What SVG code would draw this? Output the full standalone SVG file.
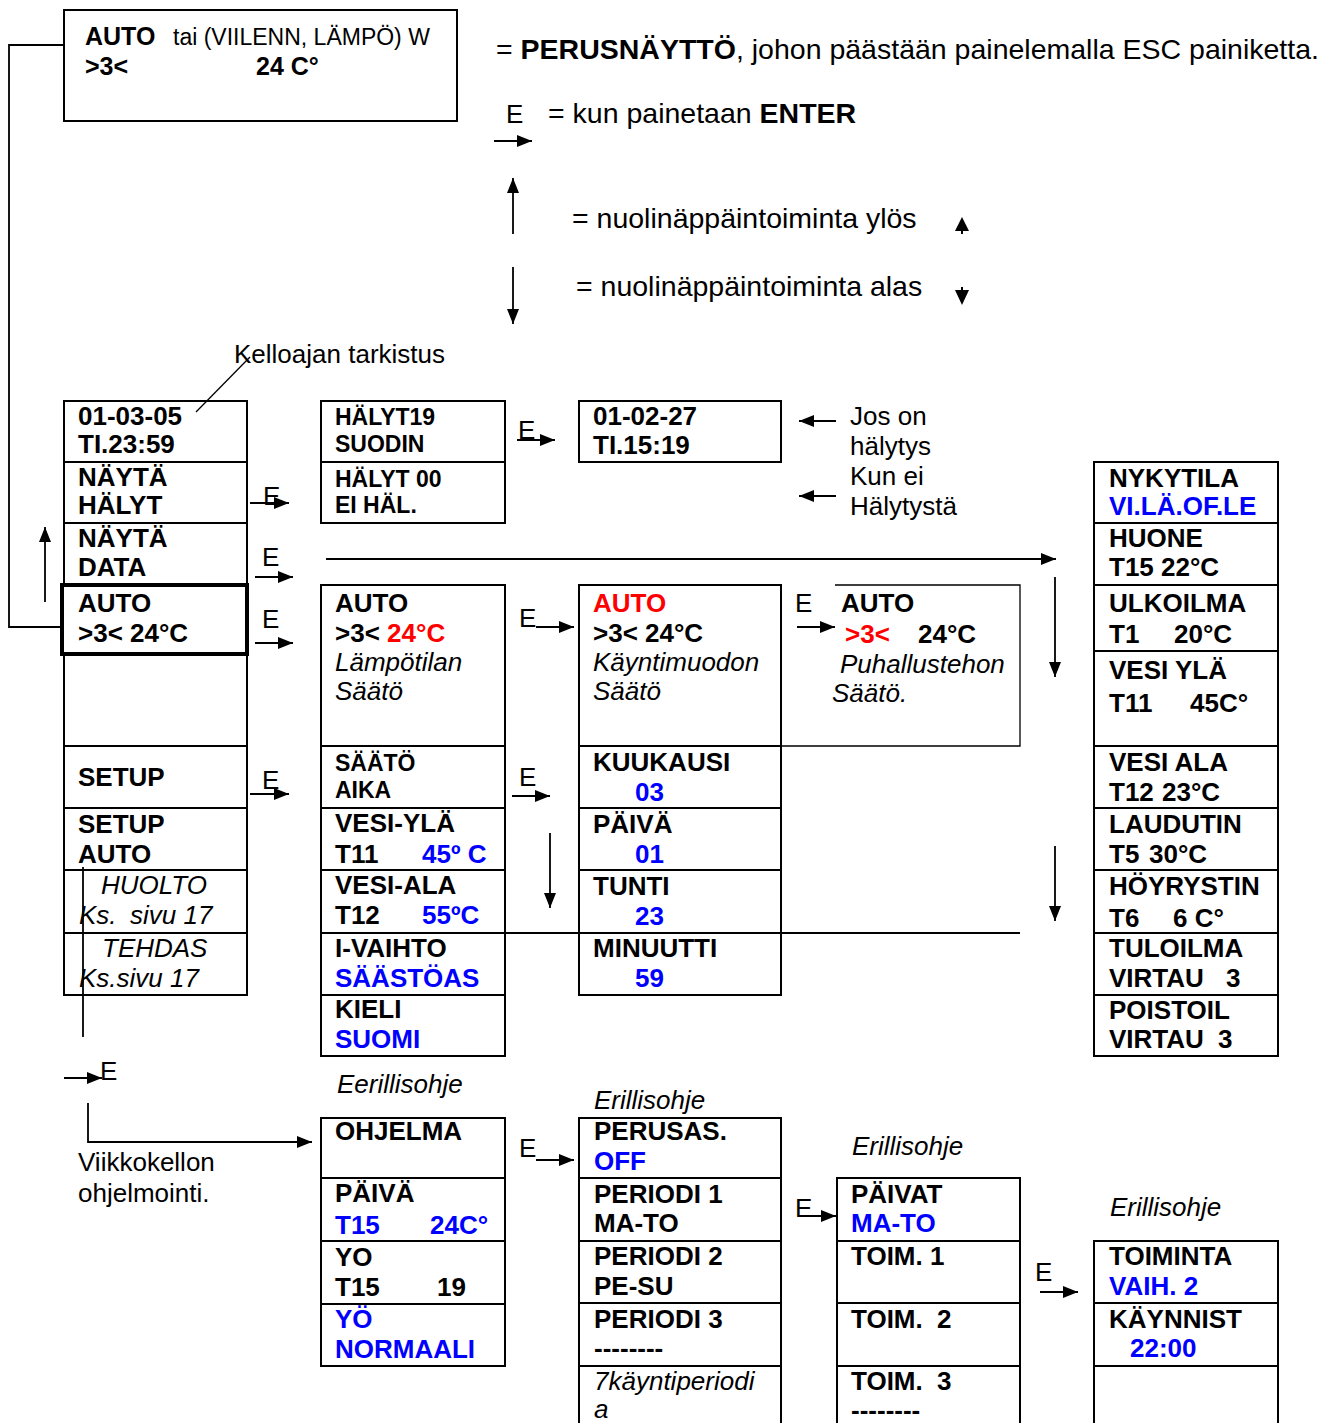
<svg xmlns="http://www.w3.org/2000/svg" width="1329" height="1423" viewBox="0 0 1329 1423">
<style>
text{font-family:"Liberation Sans",Arial,sans-serif;fill:#000}
.b{font-weight:bold;font-size:26px}
.bs{font-weight:bold;font-size:23px}
.r{font-size:26px}
.i{font-style:italic;font-size:26px}
.lg{font-size:28.5px}
.bl{fill:#0000ff}
.rd{fill:#ff0000}
.box{fill:#fff;stroke:#000;stroke-width:2}
.thin{fill:none;stroke:#000;stroke-width:1.3}
.c{fill:none;stroke:#000;stroke-width:1.8}
.ca{fill:none;stroke:#000;stroke-width:1.8;marker-end:url(#ah)}
</style>
<defs>
<marker id="ah" viewBox="0 0 15 12" refX="15" refY="6" markerWidth="15" markerHeight="12" markerUnits="userSpaceOnUse" orient="auto">
<path d="M0,0 L15,6 L0,12 z" fill="#000"/>
</marker>
</defs>
<rect width="1329" height="1423" fill="#fff"/>

<g id="legend">
<text class="lg" x="496" y="59">= <tspan font-weight="bold">PERUSNÄYTTÖ</tspan>, johon päästään painelemalla ESC painiketta.</text>
<text class="r" x="506" y="123">E</text>
<text class="lg" x="548" y="123">= kun painetaan <tspan font-weight="bold">ENTER</tspan></text>
<line class="ca" x1="494" y1="141" x2="532" y2="141"/>
<line class="ca" x1="513" y1="234" x2="513" y2="178"/>
<text class="lg" x="572" y="228">= nuolinäppäintoiminta ylös</text>
<line class="ca" x1="513" y1="267" x2="513" y2="324"/>
<text class="lg" x="576" y="296">= nuolinäppäintoiminta alas</text>
<polygon points="962,217 955,231 969,231" fill="#000"/>
<line x1="962" y1="231" x2="962" y2="234" stroke="#000" stroke-width="2"/>
<line x1="962" y1="287" x2="962" y2="290" stroke="#000" stroke-width="2"/>
<polygon points="955,290 969,290 962,305" fill="#000"/>
</g>

<g id="perusnaytto">
<rect class="box" x="64" y="10" width="393" height="111"/>
<text x="85" y="45" font-weight="bold" font-size="25">AUTO</text>
<text x="173" y="45" font-size="23">tai (VIILENN, LÄMPÖ) W</text>
<text x="85" y="75" font-weight="bold" font-size="25">&gt;3&lt;</text>
<text x="256" y="75" font-weight="bold" font-size="25">24 C°</text>
</g>

<g id="labels">
<text class="r" x="234" y="363">Kelloajan tarkistus</text>
<text class="r" x="850" y="425">Jos on</text>
<text class="r" x="850" y="455">hälytys</text>
<text class="r" x="850" y="485">Kun ei</text>
<text class="r" x="850" y="515">Hälytystä</text>
<text class="r" x="263" y="505">E</text>
<text class="r" x="262" y="566">E</text>
<text class="r" x="262" y="628">E</text>
<text class="r" x="262" y="789">E</text>
<text class="r" x="518" y="439">E</text>
<text class="r" x="519" y="627">E</text>
<text class="r" x="519" y="786">E</text>
<text class="r" x="795" y="612">E</text>
<text class="r" x="100" y="1080">E</text>
<text class="r" x="78" y="1171">Viikkokellon</text>
<text class="r" x="78" y="1202">ohjelmointi.</text>
<text class="i" x="337" y="1093">Eerillisohje</text>
<text class="r" x="519" y="1157">E</text>
<text class="i" x="594" y="1109">Erillisohje</text>
<text class="r" x="795" y="1217">E</text>
<text class="i" x="852" y="1155">Erillisohje</text>
<text class="r" x="1035" y="1281">E</text>
<text class="i" x="1110" y="1216">Erillisohje</text>
</g>

<!-- column 1 -->
<g id="n-pvm">
<rect class="box" x="64" y="401" width="183" height="61"/>
<text class="b" x="78" y="425">01-03-05</text>
<text class="b" x="78" y="453">TI.23:59</text>
</g>
<g id="n-nayta-halyt">
<rect class="box" x="64" y="462" width="183" height="61"/>
<text class="b" x="78" y="486">NÄYTÄ</text>
<text class="b" x="78" y="514">HÄLYT</text>
</g>
<g id="n-nayta-data">
<rect class="box" x="64" y="523" width="183" height="62"/>
<text class="b" x="78" y="547">NÄYTÄ</text>
<text class="b" x="78" y="576">DATA</text>
</g>
<g id="n-empty1">
<rect class="box" x="64" y="654" width="183" height="92"/>
</g>
<g id="n-auto">
<rect x="62" y="585" width="185" height="69" fill="#fff" stroke="#000" stroke-width="4"/>
<text class="b" x="78" y="612">AUTO</text>
<text class="b" x="78" y="642">&gt;3&lt; 24°C</text>
</g>
<g id="n-setup">
<rect class="box" x="64" y="746" width="183" height="62"/>
<text class="b" x="78" y="786">SETUP</text>
</g>
<g id="n-huolto">
<rect class="box" x="64" y="870" width="183" height="63"/>
<text class="i" x="101" y="894">HUOLTO</text>
<text class="i" x="79" y="924">Ks.</text>
<text class="i" x="130" y="924">sivu 17</text>
</g>
<g id="n-tehdas">
<rect class="box" x="64" y="933" width="183" height="62"/>
<text class="i" x="102" y="957">TEHDAS</text>
<text class="i" x="79" y="987">Ks.sivu 17</text>
</g>
<g id="n-setup-auto">
<rect class="box" x="64" y="808" width="183" height="62" stroke-width="3"/>
<text class="b" x="78" y="833">SETUP</text>
<text class="b" x="78" y="863">AUTO</text>
</g>

<!-- column 2 -->
<g id="n-halyt19">
<rect class="box" x="321" y="401" width="184" height="61"/>
<text class="bs" x="335" y="425">HÄLYT19</text>
<text class="bs" x="335" y="452">SUODIN</text>
</g>
<g id="n-halyt00">
<rect class="box" x="321" y="462" width="184" height="61"/>
<text class="bs" x="335" y="487">HÄLYT 00</text>
<text class="bs" x="335" y="513">EI HÄL.</text>
</g>
<g id="n-lampotila">
<rect class="box" x="321" y="585" width="184" height="161"/>
<text class="b" x="335" y="612">AUTO</text>
<text class="b" x="335" y="642">&gt;3&lt; <tspan class="rd">24°C</tspan></text>
<text class="i" x="335" y="671">Lämpötilan</text>
<text class="i" x="335" y="700">Säätö</text>
</g>
<g id="n-saato-aika">
<rect class="box" x="321" y="746" width="184" height="62"/>
<text class="bs" x="335" y="771">SÄÄTÖ</text>
<text class="bs" x="335" y="798">AIKA</text>
</g>
<g id="n-vesi-ala2">
<rect class="box" x="321" y="870" width="184" height="63" stroke-width="2.5"/>
<text class="b" x="335" y="894">VESI-ALA</text>
<text class="b" x="335" y="924">T12</text>
<text class="b bl" x="422" y="924">55ºC</text>
</g>
<g id="n-vesi-yla2">
<rect class="box" x="321" y="808" width="184" height="62" stroke-width="3"/>
<text class="b" x="335" y="832">VESI-YLÄ</text>
<text class="b" x="335" y="863">T11</text>
<text class="b bl" x="422" y="863">45º C</text>
</g>
<g id="n-ivaihto">
<rect class="box" x="321" y="933" width="184" height="62"/>
<text class="b" x="335" y="957">I-VAIHTO</text>
<text class="b bl" x="335" y="987">SÄÄSTÖAS</text>
</g>
<g id="n-kieli">
<rect class="box" x="321" y="995" width="184" height="61"/>
<text class="b" x="335" y="1018">KIELI</text>
<text class="b bl" x="335" y="1048">SUOMI</text>
</g>

<!-- column 3 -->
<g id="n-halytys-aika">
<rect class="box" x="579" y="401" width="202" height="61"/>
<text class="b" x="593" y="425">01-02-27</text>
<text class="b" x="593" y="454">TI.15:19</text>
</g>
<g id="n-kayntimuoto">
<rect class="box" x="579" y="585" width="202" height="161"/>
<text class="b rd" x="593" y="612">AUTO</text>
<text class="b" x="593" y="642">&gt;3&lt; 24°C</text>
<text class="i" x="593" y="671">Käyntimuodon</text>
<text class="i" x="593" y="700">Säätö</text>
</g>
<g id="n-kuukausi">
<rect class="box" x="579" y="746" width="202" height="62"/>
<text class="b" x="593" y="771">KUUKAUSI</text>
<text class="b bl" x="635" y="801">03</text>
</g>
<g id="n-paiva">
<rect class="box" x="579" y="808" width="202" height="62"/>
<text class="b" x="593" y="833">PÄIVÄ</text>
<text class="b bl" x="635" y="863">01</text>
</g>
<g id="n-tunti">
<rect class="box" x="579" y="870" width="202" height="63"/>
<text class="b" x="593" y="895">TUNTI</text>
<text class="b bl" x="635" y="925">23</text>
</g>
<g id="n-minuutti">
<rect class="box" x="579" y="933" width="202" height="62"/>
<text class="b" x="593" y="957">MINUUTTI</text>
<text class="b bl" x="635" y="987">59</text>
</g>

<!-- column 4 -->
<g id="n-puhallus">
<path d="M835,585 H1020 V746 H781" fill="none" stroke="#000" stroke-width="1.3"/>
<text class="b" x="841" y="612">AUTO</text>
<text class="b rd" x="845" y="643">&gt;3&lt;</text>
<text class="b" x="918" y="643">24°C</text>
<text class="i" x="840" y="673">Puhallustehon</text>
<text class="i" x="832" y="702">Säätö.</text>
</g>

<!-- right column -->
<g id="n-nykytila">
<rect class="box" x="1094" y="462" width="184" height="61"/>
<text class="b" x="1109" y="487">NYKYTILA</text>
<text class="b bl" x="1109" y="515">VI.LÄ.OF.LE</text>
</g>
<g id="n-huone">
<rect class="box" x="1094" y="523" width="184" height="62"/>
<text class="b" x="1109" y="547">HUONE</text>
<text class="b" x="1109" y="576">T15</text>
<text class="b" x="1161" y="576">22°C</text>
</g>
<g id="n-ulkoilma">
<rect class="box" x="1094" y="585" width="184" height="66"/>
<text class="b" x="1109" y="612">ULKOILMA</text>
<text class="b" x="1109" y="643">T1</text>
<text class="b" x="1174" y="643">20°C</text>
</g>
<g id="n-vesi-yla">
<rect class="box" x="1094" y="651" width="184" height="95"/>
<text class="b" x="1109" y="679">VESI YLÄ</text>
<text class="b" x="1109" y="712">T11</text>
<text class="b" x="1190" y="712">45C°</text>
</g>
<g id="n-vesi-ala">
<rect class="box" x="1094" y="746" width="184" height="62"/>
<text class="b" x="1109" y="771">VESI ALA</text>
<text class="b" x="1109" y="801">T12</text>
<text class="b" x="1162" y="801">23°C</text>
</g>
<g id="n-laudutin">
<rect class="box" x="1094" y="808" width="184" height="62"/>
<text class="b" x="1109" y="833">LAUDUTIN</text>
<text class="b" x="1109" y="863">T5</text>
<text class="b" x="1149" y="863">30°C</text>
</g>
<g id="n-hoyrystin">
<rect class="box" x="1094" y="870" width="184" height="63"/>
<text class="b" x="1109" y="895">HÖYRYSTIN</text>
<text class="b" x="1109" y="927">T6</text>
<text class="b" x="1173" y="927">6 C°</text>
</g>
<g id="n-tuloilma">
<rect class="box" x="1094" y="933" width="184" height="62"/>
<text class="b" x="1109" y="957">TULOILMA</text>
<text class="b" x="1109" y="987">VIRTAU</text>
<text class="b" x="1226" y="987">3</text>
</g>
<g id="n-poistoil">
<rect class="box" x="1094" y="995" width="184" height="61"/>
<text class="b" x="1109" y="1019">POISTOIL</text>
<text class="b" x="1109" y="1048">VIRTAU</text>
<text class="b" x="1218" y="1048">3</text>
</g>

<!-- bottom B1 -->
<g id="n-ohjelma">
<rect class="box" x="321" y="1118" width="184" height="60"/>
<text class="b" x="335" y="1140">OHJELMA</text>
</g>
<g id="n-paiva-b">
<rect class="box" x="321" y="1178" width="184" height="63"/>
<text class="b" x="335" y="1202">PÄIVÄ</text>
<text class="b bl" x="335" y="1234">T15</text>
<text class="b bl" x="430" y="1234">24C°</text>
</g>
<g id="n-yo">
<rect class="box" x="321" y="1241" width="184" height="63" stroke-width="3"/>
<text class="b" x="335" y="1266">YO</text>
<text class="b" x="335" y="1296">T15</text>
<text class="b" x="437" y="1296">19</text>
</g>
<g id="n-yo-normaali">
<rect class="box" x="321" y="1304" width="184" height="62" stroke-width="3"/>
<text class="b bl" x="335" y="1328">YÖ</text>
<text class="b bl" x="335" y="1358">NORMAALI</text>
</g>

<!-- bottom B2 -->
<g id="n-perusas">
<rect class="box" x="579" y="1118" width="202" height="60"/>
<text class="b" x="594" y="1140">PERUSAS.</text>
<text class="b bl" x="594" y="1170">OFF</text>
</g>
<g id="n-periodi1">
<rect class="box" x="579" y="1178" width="202" height="63"/>
<text class="b" x="594" y="1203">PERIODI 1</text>
<text class="b" x="594" y="1232">MA-TO</text>
</g>
<g id="n-periodi2">
<rect class="box" x="579" y="1241" width="202" height="62"/>
<text class="b" x="594" y="1265">PERIODI 2</text>
<text class="b" x="594" y="1295">PE-SU</text>
</g>
<g id="n-periodi3">
<rect class="box" x="579" y="1303" width="202" height="63"/>
<text class="b" x="594" y="1328">PERIODI 3</text>
<text class="b" x="594" y="1357">--------</text>
</g>
<g id="n-7kaynti">
<rect class="box" x="579" y="1366" width="202" height="70"/>
<text class="i" x="594" y="1390">7käyntiperiodi</text>
<text class="i" x="594" y="1418">a</text>
</g>

<!-- bottom B3 -->
<g id="n-paivat">
<rect class="box" x="837" y="1178" width="183" height="63"/>
<text class="b" x="851" y="1203">PÄIVAT</text>
<text class="b bl" x="851" y="1232">MA-TO</text>
</g>
<g id="n-toim1">
<rect class="box" x="837" y="1241" width="183" height="62"/>
<text class="b" x="851" y="1265">TOIM. 1</text>
</g>
<g id="n-toim2">
<rect class="box" x="837" y="1303" width="183" height="63"/>
<text class="b" x="851" y="1328">TOIM.</text>
<text class="b" x="937" y="1328">2</text>
</g>
<g id="n-toim3">
<rect class="box" x="837" y="1366" width="183" height="70"/>
<text class="b" x="851" y="1390">TOIM.</text>
<text class="b" x="937" y="1390">3</text>
<text class="b" x="851" y="1419">--------</text>
</g>

<!-- bottom B4 -->
<g id="n-toiminta">
<rect class="box" x="1094" y="1241" width="184" height="62"/>
<text class="b" x="1109" y="1265">TOIMINTA</text>
<text class="b bl" x="1109" y="1295">VAIH. 2</text>
</g>
<g id="n-kaynnist">
<rect class="box" x="1094" y="1303" width="184" height="63"/>
<text class="b" x="1109" y="1328">KÄYNNIST</text>
<text class="b bl" x="1130" y="1357">22:00</text>
</g>
<g id="n-empty-b4">
<rect class="box" x="1094" y="1366" width="184" height="70"/>
</g>

<g id="connectors">
<polyline class="c" points="64,45 9,45 9,627 62,627"/>
<line class="thin" x1="250" y1="357" x2="196" y2="412"/>
<line class="ca" x1="45" y1="602" x2="45" y2="527"/>
<line class="ca" x1="250" y1="503" x2="289" y2="503"/>
<line class="ca" x1="255" y1="577" x2="293" y2="577"/>
<line class="ca" x1="255" y1="643" x2="293" y2="643"/>
<line class="ca" x1="250" y1="794" x2="289" y2="794"/>
<line class="ca" x1="517" y1="440" x2="555" y2="440"/>
<line class="ca" x1="536" y1="627" x2="574" y2="627"/>
<line class="ca" x1="512" y1="796" x2="550" y2="796"/>
<line class="ca" x1="797" y1="627" x2="835" y2="627"/>
<line class="ca" x1="326" y1="559" x2="1056" y2="559"/>
<line class="ca" x1="550" y1="833" x2="550" y2="908"/>
<line class="ca" x1="1055" y1="577" x2="1055" y2="677"/>
<line class="ca" x1="1055" y1="846" x2="1055" y2="921"/>
<line class="ca" x1="836" y1="421" x2="799" y2="421"/>
<line class="ca" x1="836" y1="496" x2="799" y2="496"/>
<line class="c" x1="83" y1="867" x2="83" y2="1037"/>
<line class="ca" x1="64" y1="1078" x2="102" y2="1078"/>
<polyline class="ca" points="88,1103 88,1142 312,1142"/>
<line class="ca" x1="536" y1="1160" x2="574" y2="1160"/>
<line class="ca" x1="800" y1="1216" x2="836" y2="1216"/>
<line class="ca" x1="1040" y1="1292" x2="1078" y2="1292"/>
<line class="c" x1="505" y1="933" x2="1020" y2="933"/>
</g>
</svg>
